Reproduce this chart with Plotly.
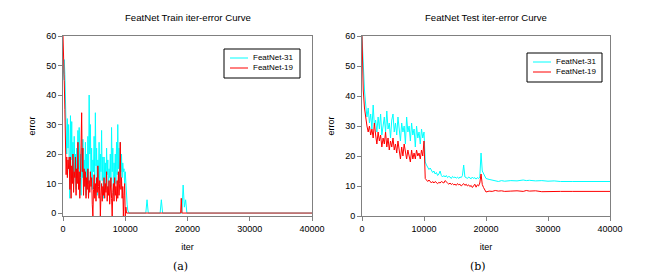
import plotly.graph_objects as go

# ---------------- data ----------------
train_dense_iter = list(range(0, 10500, 100))
train31_dense = [45, 50, 52, 47, 38, 28, 20, 32, 22, 30,
                 12, 5, 33, 18, 31, 15, 24, 10, 26, 14,
                 20, 8, 22, 12, 28, 15, 29, 10, 20, 6,
                 22, 12, 25, 8, 18, 14, 24, 6, 20, 12,
                 26, 10, 40, 20, 30, 12, 22, 8, 18, 14,
                 26, 10, 34, 16, 22, 6, 18, 12, 24, 9,
                 20, 14, 28, 11, 19, 5, 19, 12, 17, 8,
                 22, 13, 18, 7, 15, 12, 20, 9, 29, 14,
                 22, 6, 17, 12, 20, 10, 24, 13, 30, 15,
                 22, 10, 24, 14, 20, 12, 17, 14, 15, 10,
                 14, 9, 6, 3, 1]
train31_tail_iter = [10600, 13300, 13500, 13700, 15600, 15800, 16000, 19100, 19300, 19500, 19700, 19900, 40000]
train31_tail = [0, 0, 4.5, 0, 0, 4.5, 0, 0, 9.5, 2, 4.5, 0, 0]

train19_dense_iter = list(range(0, 10300, 100))
train19_dense = [60, 55, 45, 35, 22, 13, 19, 12, 18, 15,
                 19, 8, 19, 5, 16, 10, 20, 7, 14, 12,
                 19, 6, 15, 10, 24, 8, 14, 5, 12, 20,
                 34, 14, 22, 6, 15, 9, 14, 5, 12, 8,
                 15, 5, 11, 7, 14, 9, 12, 3, -1, 8,
                 13, 5, 10, 4, 12, 7, 16, 9, 5, 11,
                 -1, 6, 10, 4, 9, 6, 12, 5, 10, 7,
                 14, 4, 9, 6, 11, 3, 8, 12, 5, -1,
                 7, 10, 4, 12, 6, 9, 4, 11, 5, 14,
                 6, 10, 24, 8, 12, 5, 9, -1, 6, 10,
                 -1, 2, 0]
train19_tail_iter = [10400, 18900, 19000, 19100, 40000]
train19_tail = [0, 0, 5, 0, 0]

test_dense_iter = list(range(0, 20200, 200))
test31_dense = [60, 48, 42, 37, 33, 36, 31, 34, 29, 37,
                30, 32, 28, 33, 29, 34, 27, 30, 33, 28,
                35, 29, 31, 26, 32, 34, 28, 31, 27, 33,
                29, 25, 31, 28, 30, 24, 33, 28, 30, 25,
                31, 27, 29, 23, 30, 26, 28, 24, 29, 26,
                28, 18, 17, 16, 15.5, 16, 15, 14.5, 15, 14,
                14.5, 13.5, 14, 15, 13.5, 13, 13.5, 13, 13.5, 12.8,
                13.2, 13, 12.5, 13.2, 12.8, 13, 12.6, 13, 12.5, 13,
                12.8, 13.5, 17, 13, 12.8, 12.5, 13, 12.6, 12.4, 13,
                12.5, 12.8, 12.3, 12.8, 12.5, 13, 21, 15, 14, 13,
                12.5]
test19_dense = [60, 42, 36, 32, 30, 28, 30, 27, 29, 26,
                31, 27, 24, 28, 25, 27, 23, 26, 24, 28,
                23, 26, 22, 25, 23, 26, 22, 24, 21, 25,
                22, 19, 23, 20, 24, 21, 19, 22, 20, 18,
                22, 19, 21, 19, 22, 20, 21, 19, 22, 20,
                25, 12.5, 12, 11.5, 12, 11.5, 11, 11.5, 11, 11.5,
                11, 10.8, 11.2, 11, 11.5, 11.2, 11, 11.8, 11.2, 11,
                10.6, 11, 10.5, 10.8, 10.4, 10.6, 10.2, 10.8, 10.4, 10.6,
                10, 10.5, 10.8, 10.2, 10.6, 10, 10.4, 9.8, 10.2, 9.5,
                10.3, 10.6, 9.6, 10.4, 10, 11, 14, 10.5, 9.5, 8.5,
                8]
test_tail_iter = [20500, 21000, 21500, 22000, 22500, 23000, 24000, 25000, 26000, 26500,
                  27000, 28000, 29000, 30000, 31000, 32000, 34000, 36000, 38000, 40000]
test31_tail = [12.2, 12, 11.8, 11.5, 11.8, 11.6, 11.8, 11.7, 12, 11.8,
               11.9, 11.7, 11.8, 11.6, 11.7, 11.5, 11.5, 11.5, 11.5, 11.5]
test19_tail = [8.3, 8.2, 8.5, 8.3, 8.4, 8.2, 8.3, 8.4, 8.2, 8.5,
               8.3, 8.4, 8.1, 8.2, 8.2, 8.2, 8.2, 8.2, 8.2, 8.2]

series_names = ["FeatNet-31", "FeatNet-19"]
titles = ["FeatNet Train iter-error Curve", "FeatNet Test iter-error Curve"]
panel_labels = ["(a)", "(b)"]
x_ticks = [0, 10000, 20000, 30000, 40000]
y_ticks = [0, 10, 20, 30, 40, 50, 60]

# ---------------- figure ----------------
CYAN = "#00FFFF"
RED = "#FF0000"
COLORS = [CYAN, RED]
OFF = 8                      # page body margin of the browser
W, H = 646 - OFF, 273 - OFF  # figure size in px
FONT = dict(family="Arial", size=9, color="#000")
TITLE_FONT = dict(family="Arial", size=9.6, color="#000")


def px(x):
    return (x - OFF) / W


def py(y):
    return (H - (y - OFF)) / H


fig = go.Figure()
fig.add_trace(go.Scatter(x=train_dense_iter + train31_tail_iter, y=train31_dense + train31_tail,
                         mode="lines", name=series_names[0], line=dict(color=CYAN, width=1),
                         xaxis="x", yaxis="y"))
fig.add_trace(go.Scatter(x=train19_dense_iter + train19_tail_iter, y=train19_dense + train19_tail,
                         mode="lines", name=series_names[1], line=dict(color=RED, width=1),
                         xaxis="x", yaxis="y"))
fig.add_trace(go.Scatter(x=test_dense_iter + test_tail_iter, y=test31_dense + test31_tail,
                         mode="lines", name=series_names[0], line=dict(color=CYAN, width=1),
                         xaxis="x2", yaxis="y2"))
fig.add_trace(go.Scatter(x=test_dense_iter + test_tail_iter, y=test19_dense + test19_tail,
                         mode="lines", name=series_names[1], line=dict(color=RED, width=1),
                         xaxis="x2", yaxis="y2"))

axis_common = dict(showgrid=False, zeroline=False, showline=True, mirror=True,
                   linecolor="#808080", linewidth=1, ticks="outside", ticklen=4,
                   tickcolor="#808080", tickfont=FONT, automargin=False)
ydom = [py(216), py(36)]

fig.update_layout(
    width=W, height=H,
    margin=dict(l=0, r=0, t=0, b=0),
    paper_bgcolor="white", plot_bgcolor="white",
    showlegend=False,
    xaxis=dict(domain=[px(63), px(312)], range=[0, 40000], tickvals=x_ticks, tickformat="d",
               title=dict(text="iter", font=FONT, standoff=10), anchor="y", **axis_common),
    yaxis=dict(domain=ydom, range=[-1, 60], tickvals=y_ticks,
               title=dict(text="error", font=FONT, standoff=9), anchor="x", **axis_common),
    xaxis2=dict(domain=[px(362), px(610)], range=[0, 40000], tickvals=x_ticks, tickformat="d",
                title=dict(text="iter", font=FONT, standoff=10), anchor="y2", **axis_common),
    yaxis2=dict(domain=ydom, range=[0, 60], tickvals=y_ticks,
                title=dict(text="error", font=FONT, standoff=9), anchor="x2", **axis_common),
)

# titles and panel labels
for cx, t, lab in zip([188, 486], titles, panel_labels):
    fig.add_annotation(text=t, x=px(cx), y=py(18), xref="paper", yref="paper",
                       xanchor="center", yanchor="middle", showarrow=False, font=TITLE_FONT)
    fig.add_annotation(text=lab, x=px(cx - 8), y=py(266), xref="paper", yref="paper",
                       xanchor="center", yanchor="middle", showarrow=False,
                       font=dict(family="DejaVu Serif", size=11, color="#000"))

# legends (box, line samples, labels)
for (x0, y0, x1, y1) in [(224, 49, 300, 78), (527, 53, 602, 82)]:
    fig.add_shape(type="rect", xref="paper", yref="paper",
                  x0=px(x0), x1=px(x1), y0=py(y1), y1=py(y0),
                  line=dict(color="#000", width=1), fillcolor="white", layer="above")
    for i, (name, col) in enumerate(zip(series_names, COLORS)):
        yy = y0 + 9 + i * 10
        fig.add_shape(type="line", xref="paper", yref="paper",
                      x0=px(x0 + 6), x1=px(x0 + 24), y0=py(yy), y1=py(yy),
                      line=dict(color=col, width=1), layer="above")
        fig.add_annotation(text=name, x=px(x0 + 27), y=py(yy), xref="paper", yref="paper",
                           xanchor="left", yanchor="middle", showarrow=False,
                           font=dict(family="Arial", size=8, color="#000"))

fig.write_html("out.html")
